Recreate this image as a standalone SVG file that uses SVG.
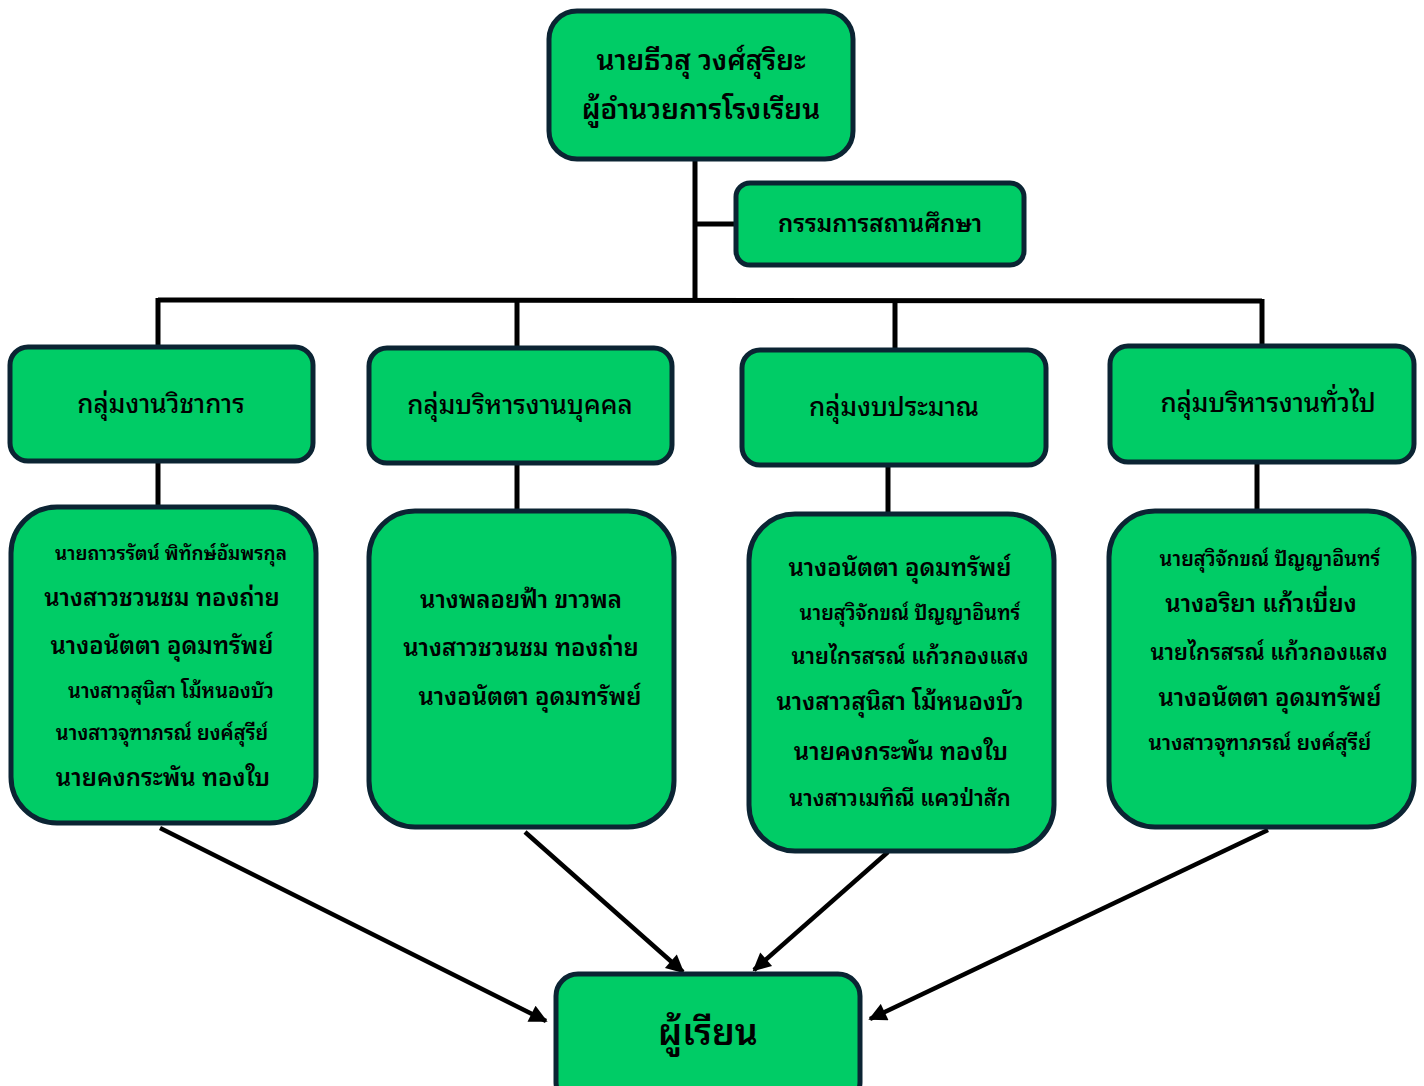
<svg xmlns="http://www.w3.org/2000/svg" width="1424" height="1086" viewBox="0 0 1424 1086">
<style>
.box{fill:#00CC66;stroke:#0B2433;stroke-width:5}
.ln{stroke:#000;stroke-width:5;fill:none}
.ar{stroke:#000;stroke-width:4.5;fill:none;marker-end:url(#ah)}
text{font-family:"Noto Sans Thai Looped","Loma","Garuda","Noto Sans Thai","Noto Sans","DejaVu Sans",sans-serif;font-weight:600;fill:#000;text-anchor:middle}
.t28{font-size:28px}
.t24{font-size:24px}
.t22{font-size:22px}
.t21{font-size:21px}
.t20{font-size:20px}
.t19{font-size:19px}
.hd{font-size:26px;font-weight:500}
.big{font-size:36px}
</style>
<defs>
<marker id="ah" viewBox="0 0 10 10" refX="9" refY="5" markerWidth="4.5" markerHeight="4" orient="auto" markerUnits="strokeWidth">
<path d="M0,0 L10,5 L0,10 z" fill="#000"/>
</marker>
</defs>
<rect width="1424" height="1086" fill="#fff"/>
<g id="connectors">
<line class="ln" x1="695" y1="159" x2="695" y2="301"/>
<line class="ln" x1="695" y1="224" x2="737" y2="224"/>
<line class="ln" x1="158" y1="300" x2="1262" y2="301"/>
<line class="ln" x1="158" y1="298" x2="158" y2="349"/>
<line class="ln" x1="517" y1="300" x2="517" y2="349"/>
<line class="ln" x1="895" y1="301" x2="895" y2="351"/>
<line class="ln" x1="1262" y1="299" x2="1262" y2="347"/>
<line class="ln" x1="158" y1="461" x2="158" y2="509"/>
<line class="ln" x1="517" y1="463" x2="517" y2="513"/>
<line class="ln" x1="888" y1="465" x2="888" y2="516"/>
<line class="ln" x1="1257" y1="462" x2="1257" y2="513"/>
<path class="ar" d="M160,828 L546,1021"/>
<path class="ar" d="M525,832 L683,972"/>
<path class="ar" d="M888,852 L754,970"/>
<path class="ar" d="M1268,830 L870,1019"/>
</g>
<g id="director">
<rect class="box" x="549" y="11" width="304" height="148" rx="28"/>
<text class="t28" x="701" y="70">นายธีวสุ วงศ์สุริยะ</text>
<text class="t28" x="701" y="119">ผู้อำนวยการโรงเรียน</text>
</g>
<g id="committee">
<rect class="box" x="736" y="183" width="288" height="82" rx="14"/>
<text class="t24" x="880" y="232">กรรมการสถานศึกษา</text>
</g>
<g id="academic">
<rect class="box" x="10" y="347" width="303" height="114" rx="18"/>
<text class="hd" x="161" y="413">กลุ่มงานวิชาการ</text>
</g>
<g id="personnel">
<rect class="box" x="369" y="348" width="303" height="115" rx="18"/>
<text class="hd" x="520" y="414">กลุ่มบริหารงานบุคคล</text>
</g>
<g id="budget">
<rect class="box" x="742" y="350" width="304" height="115" rx="18"/>
<text class="hd" x="894" y="416">กลุ่มงบประมาณ</text>
</g>
<g id="general">
<rect class="box" x="1110" y="346" width="304" height="116" rx="18"/>
<text class="hd" x="1268" y="412">กลุ่มบริหารงานทั่วไป</text>
</g>
<g id="academic-staff">
<rect class="box" x="11" y="507" width="305" height="316" rx="46"/>
<text class="t19" x="171" y="560">นายถาวรรัตน์ พิทักษ์อัมพรกุล</text>
<text class="t24" x="162" y="606">นางสาวชวนชม ทองถ่าย</text>
<text class="t24" x="162" y="654">นางอนัตตา อุดมทรัพย์</text>
<text class="t20" x="171" y="698">นางสาวสุนิสา  โม้หนองบัว</text>
<text class="t20" x="162" y="740">นางสาวจุฑาภรณ์ ยงค์สุรีย์</text>
<text class="t24" x="163" y="786">นายคงกระพัน ทองใบ</text>
</g>
<g id="personnel-staff">
<rect class="box" x="369" y="511" width="305" height="316" rx="46"/>
<text class="t24" x="521" y="608">นางพลอยฟ้า ขาวพล</text>
<text class="t24" x="521" y="656">นางสาวชวนชม ทองถ่าย</text>
<text class="t24" x="530" y="705">นางอนัตตา  อุดมทรัพย์</text>
</g>
<g id="budget-staff">
<rect class="box" x="749" y="514" width="305" height="337" rx="46"/>
<text class="t24" x="900" y="576">นางอนัตตา  อุดมทรัพย์</text>
<text class="t20" x="910" y="620">นายสุวิจักขณ์ ปัญญาอินทร์</text>
<text class="t22" x="910" y="664">นายไกรสรณ์  แก้วกองแสง</text>
<text class="t24" x="900" y="710">นางสาวสุนิสา โม้หนองบัว</text>
<text class="t24" x="901" y="760">นายคงกระพัน ทองใบ</text>
<text class="t22" x="900" y="806">นางสาวเมทิณี แควป่าสัก</text>
</g>
<g id="general-staff">
<rect class="box" x="1109" y="511" width="305" height="316" rx="46"/>
<text class="t20" x="1270" y="566">นายสุวิจักขณ์ ปัญญาอินทร์</text>
<text class="t24" x="1261" y="612">นางอริยา แก้วเบี่ยง</text>
<text class="t22" x="1269" y="660">นายไกรสรณ์ แก้วกองแสง</text>
<text class="t24" x="1270" y="706">นางอนัตตา  อุดมทรัพย์</text>
<text class="t21" x="1260" y="750">นางสาวจุฑาภรณ์  ยงค์สุรีย์</text>
</g>
<g id="students">
<rect class="box" x="556" y="974" width="304" height="130" rx="22"/>
<text class="big" x="708" y="1045">ผู้เรียน</text>
</g>
</svg>
